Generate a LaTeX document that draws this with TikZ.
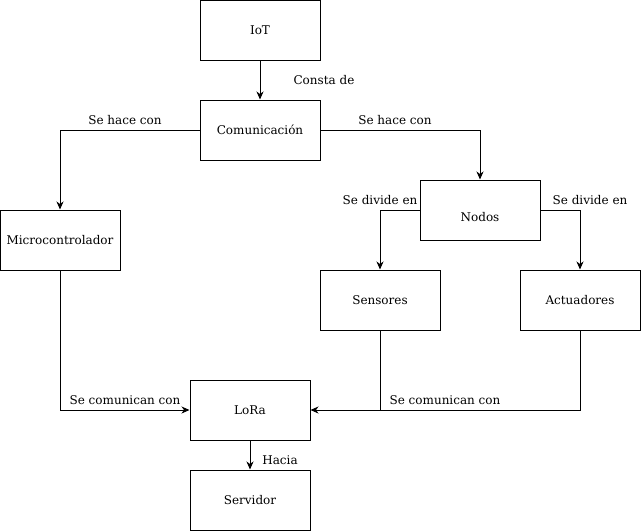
\documentclass[tikz,border=0pt]{standalone}
\usepackage{fontspec}
\setmainfont{DejaVu Serif}
\usetikzlibrary{arrows.meta}
\begin{document}
\begin{tikzpicture}[x=1pt,y=-1pt,
  box/.style={draw=black,fill=white,line width=1pt,minimum width=120pt,minimum height=60pt,inner sep=0pt,font=\fontsize{12}{14}\selectfont},
  conn/.style={draw=black,line width=1pt,-{Stealth[length=8pt,width=7pt,inset=2.5pt]}},
  plain/.style={draw=black,line width=1pt},
  lbl/.style={font=\fontsize{12}{14}\selectfont,inner sep=0pt}]
\useasboundingbox (0,0) rectangle (641,531);
% boxes
\node[box] (iot) at (260,30) {IoT};
\node[box] (com) at (260,130) {Comunicación};
\node[box] (mic) at (60,240) {Microcontrolador};
\node[box] (nod) at (480,210) {};
\node[lbl] (nodtxt) at (480,217) {Nodos};
\node[box] (sen) at (380,300) {Sensores};
\node[box] (act) at (580,300) {Actuadores};
\node[box] (lora) at (250,410) {LoRa};
\node[box] (srv) at (250,500) {Servidor};
% connectors
\draw[conn] (iot) -- (com);
\draw[conn] (com.west) -| (mic.north);
\draw[conn] (com.east) -| (nod.north);
\draw[conn] (nod.west) -| (sen.north);
\draw[conn] (nod.east) -| (act.north);
\draw[conn] (mic.south) |- (lora.west);
\coordinate (join) at (sen.south |- lora.east);
\draw[plain] (sen.south) -- (join);
\draw[conn] (act.south) |- (lora.east);
\draw[conn] (lora) -- (srv);
% labels
\node[lbl] (l1) at (324,80) {Consta de};
\node[lbl] (l2) at (125,120) {Se hace con};
\node[lbl] (l3) at (395,120) {Se hace con};
\node[lbl] (l4) at (380,200) {Se divide en};
\node[lbl] (l5) at (590,200) {Se divide en};
\node[lbl] (l6) at (125,400) {Se comunican con};
\node[lbl] (l7) at (445,400) {Se comunican con};
\node[lbl] (l8) at (280,460) {Hacia};
\end{tikzpicture}
\end{document}
